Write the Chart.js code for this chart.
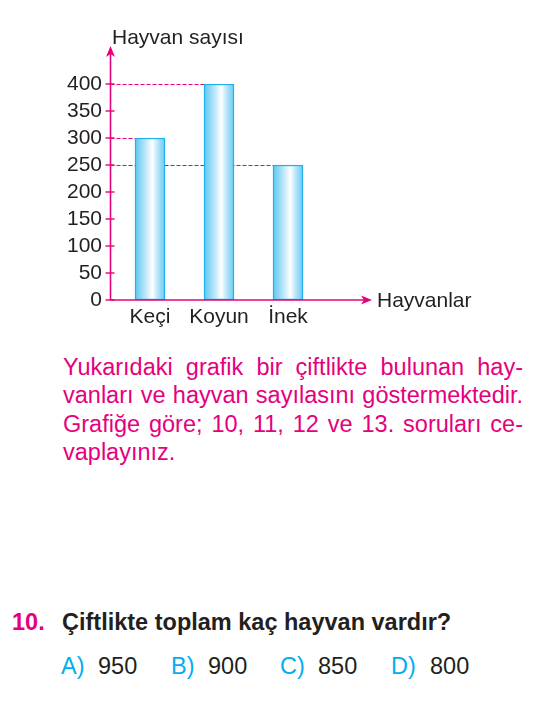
<!DOCTYPE html>
<html lang="tr">
<head>
<meta charset="utf-8">
<title>Hayvan sayısı</title>
<script src="https://cdn.jsdelivr.net/npm/chart.js@4.4.1/dist/chart.umd.min.js"></script>
<style>
    body {
        margin: 0;
        background: #fff;
        width: 537px;
        height: 712px;
        position: relative;
        overflow: hidden;
        font-family: "Liberation Sans", Arial, sans-serif;
    }
    #chartBox {
        position: absolute;
        left: 0;
        top: 0;
        width: 537px;
        height: 340px;
    }
    .para {
        position: absolute;
        left: 63px;
        top: 353px;
        width: 460px;
        color: #e5007d;
        font-size: 23.5px;
        line-height: 28.4px;
    }
    .para div {
        text-align: justify;
        text-align-last: justify;
        white-space: nowrap;
    }
    .para div.last {
        text-align-last: left;
    }
    .q {
        position: absolute;
        font-size: 23.5px;
        line-height: 28px;
        white-space: nowrap;
        color: #231f20;
    }
    .num { color: #e5007d; font-weight: bold; }
    .bold { font-weight: bold; }
    .opt { color: #00aeef; }
</style>
</head>
<body>
<div id="chartBox"><canvas id="animalChart"></canvas></div>

<div class="para">
    <div>Yukarıdaki grafik bir çiftlikte bulunan hay-</div>
    <div>vanları ve hayvan sayılasını göstermektedir.</div>
    <div>Grafiğe göre; 10, 11, 12 ve 13. soruları ce-</div>
    <div class="last">vaplayınız.</div>
</div>

<div class="q num" style="left:12px; top:608px;">10.</div>
<div class="q bold" style="left:62px; top:608px;">Çiftlikte toplam kaç hayvan vardır?</div>

<div class="q opt" style="left:61px; top:652px;">A)</div>
<div class="q" style="left:98px; top:652px;">950</div>
<div class="q opt" style="left:171px; top:652px;">B)</div>
<div class="q" style="left:208px; top:652px;">900</div>
<div class="q opt" style="left:280px; top:652px;">C)</div>
<div class="q" style="left:318px; top:652px;">850</div>
<div class="q opt" style="left:391px; top:652px;">D)</div>
<div class="q" style="left:430px; top:652px;">800</div>

<script>
const categories = ['Keçi', 'Koyun', 'İnek'];
const animalCounts = [300, 400, 250];
const yTicks = [0, 50, 100, 150, 200, 250, 300, 350, 400];
const yTitle = 'Hayvan sayısı';
const xTitle = 'Hayvanlar';

const MAGENTA = '#e5007d';
const TEXT = '#231f20';
const FONT = '"Liberation Sans", Arial, sans-serif';

// bar fill: blue edges, white stripe a bit right of the middle
function barFill(ctx) {
    const chart = ctx.chart;
    const xs = chart.scales.x;
    if (!chart.chartArea || !xs) return '#a6def7';
    const cx = xs.getPixelForValue(ctx.dataIndex);
    const g = chart.ctx.createLinearGradient(cx - 15, 0, cx + 15, 0);
    g.addColorStop(0, '#5ec8f1');
    g.addColorStop(0.15, '#86d4f4');
    g.addColorStop(0.32, '#b3e4f9');
    g.addColorStop(0.48, '#e2f5fd');
    g.addColorStop(0.58, '#ffffff');
    g.addColorStop(0.68, '#d6f0fc');
    g.addColorStop(0.82, '#a2ddf7');
    g.addColorStop(1, '#6acbf2');
    return g;
}

function arrowHead(c, x, y, dir) {
    // dir: 'up' or 'right'
    c.save();
    c.translate(x, y);
    if (dir === 'right') c.rotate(Math.PI / 2);
    c.beginPath();
    c.moveTo(0, 0);
    c.lineTo(-4.5, 11);
    c.lineTo(0, 8);
    c.lineTo(4.5, 11);
    c.closePath();
    c.fillStyle = MAGENTA;
    c.fill();
    c.restore();
}

const axesPlugin = {
    id: 'axesPlugin',
    beforeDatasetsDraw(chart) {
        const c = chart.ctx;
        const area = chart.chartArea;
        const axisX = area.left - 5;
        const meta = chart.getDatasetMeta(0);
        c.save();
        c.strokeStyle = MAGENTA;
        c.lineWidth = 1;
        c.setLineDash([4, 2]);
        meta.data.forEach(bar => {
            const left = bar.x - bar.width / 2;
            c.beginPath();
            c.moveTo(axisX, Math.round(bar.y) + 0.5);
            c.lineTo(left, Math.round(bar.y) + 0.5);
            c.stroke();
        });
        c.restore();
    },
    afterDatasetsDraw(chart) {
        const c = chart.ctx;
        const area = chart.chartArea;
        const ys = chart.scales.y;
        const axisX = area.left - 5;
        const baseY = ys.getPixelForValue(0);
        c.save();
        c.strokeStyle = MAGENTA;
        c.lineWidth = 1.6;
        // y axis
        c.beginPath();
        c.moveTo(axisX, baseY);
        c.lineTo(axisX, 52);
        c.stroke();
        // x axis
        c.beginPath();
        c.moveTo(axisX, baseY);
        c.lineTo(366, baseY);
        c.stroke();
        // tick marks
        c.lineWidth = 1.4;
        yTicks.forEach(v => {
            const y = ys.getPixelForValue(v);
            c.beginPath();
            c.moveTo(axisX - 5, y);
            c.lineTo(axisX + 4, y);
            c.stroke();
        });
        arrowHead(c, axisX, 46, 'up');
        arrowHead(c, 372, baseY, 'right');

        c.fillStyle = TEXT;
        c.font = '21px ' + FONT;
        c.textAlign = 'left';
        c.textBaseline = 'alphabetic';
        c.fillText(yTitle, 112, 44);
        c.fillText(xTitle, 377, 307);
        c.restore();
    }
};

new Chart(document.getElementById('animalChart'), {
    type: 'bar',
    data: {
        labels: categories,
        datasets: [{
            data: animalCounts,
            backgroundColor: barFill,
            borderColor: '#1fb1ec',
            borderWidth: 1.5,
            borderSkipped: false,
            barThickness: 30
        }]
    },
    options: {
        responsive: true,
        maintainAspectRatio: false,
        animation: false,
        layout: {
            padding: { top: 84, left: 0, right: 214.5, bottom: 0 }
        },
        plugins: {
            legend: { display: false },
            tooltip: { enabled: false }
        },
        scales: {
            x: {
                grid: { display: false },
                border: { display: false },
                ticks: {
                    color: TEXT,
                    font: { family: FONT, size: 21 },
                    padding: -3
                },
                afterFit(scale) { scale.height = 40; }
            },
            y: {
                min: 0,
                max: 400,
                grid: { display: false, drawTicks: false },
                border: { display: false },
                ticks: {
                    color: TEXT,
                    font: { family: FONT, size: 21 },
                    padding: 13.5,
                    autoSkip: false
                },
                afterBuildTicks(scale) {
                    scale.ticks = yTicks.map(v => ({ value: v }));
                },
                afterFit(scale) { scale.width = 115.5; }
            }
        }
    },
    plugins: [axesPlugin]
});
</script>
</body>
</html>
